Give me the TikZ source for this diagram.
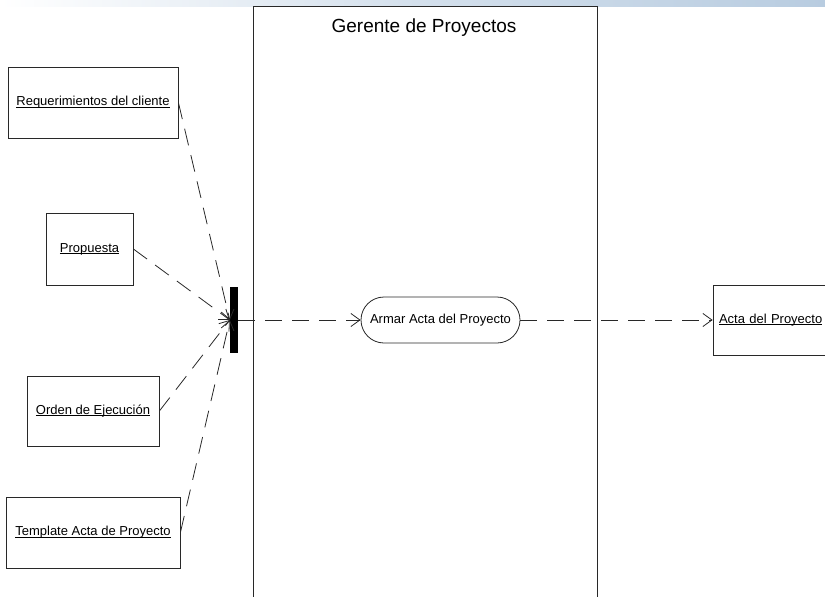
\documentclass[tikz,border=0pt]{standalone}
\usepackage{fontspec}
\setmainfont{Liberation Sans}
\usepackage{tikz}
\usetikzlibrary{shapes.geometric, arrows.meta}

\definecolor{barblue}{RGB}{184,204,224}
\definecolor{linegray}{RGB}{40,40,40}

% subrayado pegado a la linea base
\newcommand{\objname}[1]{\setbox0\hbox{#1}\rlap{\rule[-1.6pt]{\wd0}{0.6pt}}\box0}

\tikzset{
    objbox/.style={draw=linegray, line width=0.8pt, font=\fontsize{13}{15}\selectfont},
    flow/.style={draw=linegray, line width=0.8pt, dash pattern=on 17pt off 10pt,
        -{Straight Barb[length=9pt, width=13pt]}}
}

\begin{document}
\begin{tikzpicture}[x=1pt, y=-1pt]
        \clip (0,0) rectangle (825,597);
        \useasboundingbox (0,0) rectangle (825,597);
        \shade[left color=white, right color=barblue, middle color=barblue!60] (0,0) rectangle (825,6);

        % carril
        \draw[draw=linegray, line width=0.8pt] (253,620) -- (253,6) -- (597,6) -- (597,620);
        \node (lane) at (424,28) {\fontsize{19}{22}\selectfont Gerente de Proyectos};

        \node[objbox, minimum width=170pt, minimum height=71pt] (req)   at (93,102.5)  {\objname{Requerimientos del cliente}};
        \node[objbox, minimum width=87pt,  minimum height=72pt] (prop)  at (89.5,249)  {\objname{Propuesta}};
        \node[objbox, minimum width=132pt, minimum height=70pt] (orden) at (93,411)    {\objname{Orden de Ejecución}};
        \node[objbox, minimum width=174pt, minimum height=71pt] (tmpl)  at (93,532.5)  {\objname{Template Acta de Proyecto}};

        \node[fill=black, inner sep=0pt, minimum width=8pt, minimum height=66pt] (fork) at (234,320) {};

        \node[objbox, rounded corners=23pt, minimum width=159pt, minimum height=46pt] (armar) at (440.5,320) {Armar Acta del Proyecto};
        \node[objbox, minimum width=117pt, minimum height=70pt, text width=105pt] (acta) at (771.5,320) {\objname{Acta del Proyecto}};

        \draw[flow] (req.east)   -- (fork.west);
        \draw[flow] (prop.east)  -- (fork.west);
        \draw[flow] (orden.east) -- (fork.west);
        \draw[flow] (tmpl.east)  -- (fork.west);
        \draw[flow] (fork.east)  -- (armar.west);
        \draw[flow] (armar.east) -- (acta.west);
    \end{tikzpicture}
\end{document}
